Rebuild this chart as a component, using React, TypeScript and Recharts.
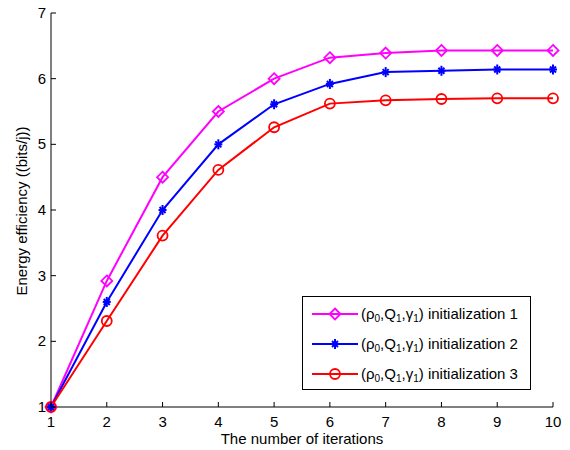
import React from 'react';
import { LineChart, Line, XAxis, YAxis } from 'recharts';

const iterations = [1, 2, 3, 4, 5, 6, 7, 8, 9, 10];
const init1 = [1, 2.92, 4.5, 5.5, 6.0, 6.32, 6.39, 6.43, 6.43, 6.43];
const init2 = [1, 2.6, 4.0, 5.0, 5.61, 5.92, 6.1, 6.12, 6.14, 6.14];
const init3 = [1, 2.31, 3.61, 4.61, 5.26, 5.62, 5.67, 5.69, 5.7, 5.7];
const xTicks = [1, 2, 3, 4, 5, 6, 7, 8, 9, 10];
const yTicks = [1, 2, 3, 4, 5, 6, 7];
const seriesNames = ['initialization 1', 'initialization 2', 'initialization 3'];

const data = iterations.map((it, i) => ({ it, a: init1[i], b: init2[i], c: init3[i] }));

const FONT = '"Liberation Sans", Arial, sans-serif';
const MAG = '#ff00ff';
const BLUE = '#0000ff';
const RED = '#ff0000';

const Diamond = (props: any) => {
  const { cx, cy } = props;
  if (cx == null || cy == null) return null;
  const r = 5.5;
  return (
    <polygon
      points={`${cx},${cy - r} ${cx + r},${cy} ${cx},${cy + r} ${cx - r},${cy}`}
      fill="none"
      stroke={MAG}
      strokeWidth={1.8}
    />
  );
};

const Star = (props: any) => {
  const { cx, cy } = props;
  if (cx == null || cy == null) return null;
  const r = 4;
  const d = 3;
  return (
    <g stroke={BLUE} strokeWidth={2}>
      <line x1={cx - r} y1={cy} x2={cx + r} y2={cy} />
      <line x1={cx} y1={cy - r - 1} x2={cx} y2={cy + r + 1} />
      <line x1={cx - d} y1={cy - d} x2={cx + d} y2={cy + d} />
      <line x1={cx - d} y1={cy + d} x2={cx + d} y2={cy - d} />
    </g>
  );
};

const Circle = (props: any) => {
  const { cx, cy } = props;
  if (cx == null || cy == null) return null;
  return <circle cx={cx} cy={cy} r={5} fill="none" stroke={RED} strokeWidth={1.8} />;
};

const BottomTick = (props: any) => {
  const { x, y, payload } = props;
  return (
    <g>
      <line x1={x} y1={y} x2={x} y2={y - 5} stroke="#000" strokeWidth={1} />
      <text x={x} y={y + 20} textAnchor="middle" fontSize={15} fontFamily={FONT} fill="#000">
        {payload.value}
      </text>
    </g>
  );
};

const TopTick = (props: any) => {
  const { x, y } = props;
  return <line x1={x} y1={y} x2={x} y2={y + 5} stroke="#000" strokeWidth={1} />;
};

const LeftTick = (props: any) => {
  const { x, y, payload } = props;
  return (
    <g>
      <line x1={x} y1={y} x2={x + 5} y2={y} stroke="#000" strokeWidth={1} />
      <text x={x - 5} y={y + 5} textAnchor="end" fontSize={15} fontFamily={FONT} fill="#000">
        {payload.value}
      </text>
    </g>
  );
};

const RightTick = (props: any) => {
  const { x, y } = props;
  return <line x1={x} y1={y} x2={x - 5} y2={y} stroke="#000" strokeWidth={1} />;
};

const LegendIcon = ({ kind, color }: { kind: number; color: string }) => (
  <svg width={46} height={14} style={{ display: 'block' }}>
    <line x1={0} y1={7} x2={46} y2={7} stroke={color} strokeWidth={2} />
    {kind === 0 && <Diamond cx={23} cy={7} />}
    {kind === 1 && <Star cx={23} cy={7} />}
    {kind === 2 && <Circle cx={23} cy={7} />}
  </svg>
);

const legendColors = [MAG, BLUE, RED];
const subStyle = { fontSize: 10, verticalAlign: '-3px', lineHeight: 0 } as const;

export default function App() {
  return (
    <div style={{ position: 'absolute', left: 0, top: 0, width: 570, height: 450, background: '#fff' }}>
      <LineChart
        width={570}
        height={450}
        data={data}
        margin={{ top: 13, right: 17, left: 0, bottom: 0 }}
      >
        <XAxis
          dataKey="it"
          type="number"
          domain={[1, 10]}
          ticks={xTicks}
          tickLine={false}
          tickSize={0}
          tickMargin={0}
          tick={<BottomTick />}
          height={43}
          stroke="#000"
          interval={0}
        />
        <XAxis
          xAxisId="top"
          orientation="top"
          dataKey="it"
          type="number"
          domain={[1, 10]}
          ticks={xTicks}
          tickLine={false}
          tickSize={0}
          tickMargin={0}
          tick={<TopTick />}
          height={0}
          stroke="#000"
          interval={0}
        />
        <YAxis
          type="number"
          domain={[1, 7]}
          ticks={yTicks}
          tickLine={false}
          tickSize={0}
          tickMargin={0}
          tick={<LeftTick />}
          width={51}
          stroke="#000"
          interval={0}
        />
        <YAxis
          yAxisId="right"
          orientation="right"
          type="number"
          domain={[1, 7]}
          ticks={yTicks}
          tickLine={false}
          tickSize={0}
          tickMargin={0}
          tick={<RightTick />}
          width={0}
          stroke="#000"
          interval={0}
        />
        <Line dataKey="a" stroke={MAG} strokeWidth={2} dot={<Diamond />} activeDot={false} isAnimationActive={false} />
        <Line dataKey="b" stroke={BLUE} strokeWidth={2} dot={<Star />} activeDot={false} isAnimationActive={false} />
        <Line dataKey="c" stroke={RED} strokeWidth={2} dot={<Circle />} activeDot={false} isAnimationActive={false} />
      </LineChart>
      <div
        style={{
          position: 'absolute',
          left: 302,
          top: 296,
          width: 227,
          height: 92,
          border: '1px solid #000',
          background: '#fff',
          fontFamily: FONT,
          fontSize: 15,
          color: '#000',
          boxSizing: 'content-box',
        }}
      >
        {seriesNames.map((name, i) => (
          <div
            key={name}
            style={{ position: 'absolute', left: 9, top: 9 + i * 30, height: 16, display: 'flex', alignItems: 'center', whiteSpace: 'nowrap' }}
          >
            <LegendIcon kind={i} color={legendColors[i]} />
            <span style={{ marginLeft: 3, lineHeight: '16px' }}>
              (ρ<sub style={subStyle}>0</sub>,Q<sub style={subStyle}>1</sub>,γ<sub style={subStyle}>1</sub>) {name}
            </span>
          </div>
        ))}
      </div>
      <div
        style={{
          position: 'absolute',
          left: 0,
          top: 430,
          width: 604,
          textAlign: 'center',
          fontFamily: FONT,
          fontSize: 15,
          color: '#000',
          lineHeight: '18px',
        }}
      >
        The number of iterations
      </div>
      <div
        style={{
          position: 'absolute',
          left: 22,
          top: 211,
          transform: 'translate(-50%, -50%) rotate(-90deg)',
          fontFamily: FONT,
          fontSize: 15,
          color: '#000',
          whiteSpace: 'nowrap',
          lineHeight: '18px',
        }}
      >
        Energy efficiency ((bits/j))
      </div>
    </div>
  );
}
